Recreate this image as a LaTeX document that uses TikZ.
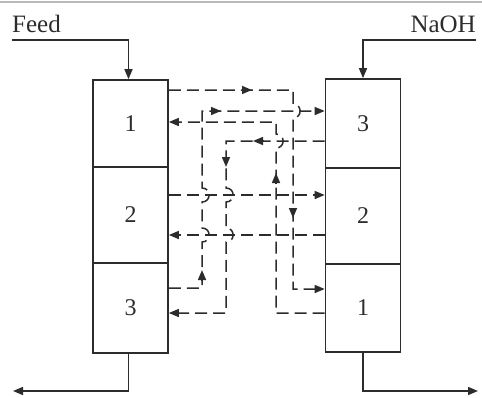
\documentclass[tikz,border=0pt]{standalone}
\usepackage{fontspec}
\setmainfont{Liberation Serif}
\usetikzlibrary{arrows.meta}
\definecolor{ink}{HTML}{2c2c2c}
\begin{document}
\begin{tikzpicture}[x=1pt,y=-1pt,
  stage/.style={draw=ink, line width=1.7pt, minimum width=75pt, inner sep=0pt,
    font=\fontsize{24}{24}\selectfont, text=ink},
  lbl/.style={inner sep=0pt, font=\fontsize{25}{25}\selectfont, text=ink},
  tipshape/.tip={Triangle[length=10pt,width=8pt]},
  flow/.style={draw=ink, line width=1.5pt, dash pattern=on 12pt off 6pt, -{tipshape}},
  feedline/.style={draw=ink, line width=1.5pt, -{tipshape}},
  tipmark/.style={draw=ink, fill=ink, line width=1.5pt, -{tipshape}}]
\useasboundingbox (0,0) rectangle (482,397);
\draw[gray!55, line width=2pt] (0,2) -- (482,2);
% stages
\node[stage, minimum height=87pt] (L1) at (130.5,123.5) {1};
\node[stage, minimum height=96pt] (L2) at (130.5,215) {2};
\node[stage, minimum height=90pt] (L3) at (130.5,308) {3};
\node[stage, minimum height=89pt] (R3) at (363,123.5) {3};
\node[stage, minimum height=96pt] (R2) at (363,216) {2};
\node[stage, minimum height=88pt] (R1) at (363,308) {1};
% labels
\node[lbl, anchor=base west] (feed) at (12,32) {Feed};
\node[lbl, anchor=base east] (naoh) at (476,32) {NaOH};
% feeds and outlets
\coordinate (outL) at (13,391);
\coordinate (outR) at (478,391);
\draw[feedline] (feed.south west |- 0,40) -| ([xshift=-2pt]L1.north);
\draw[feedline] (naoh.south east |- 0,40) -| (R3.north);
\draw[feedline] ([xshift=-2pt]L3.south) |- (outL);
\draw[feedline] (R1.south) |- (outR);
% A: L1 -> R1
\draw[flow] (L1.east |- 0,90) -- (293,90) -- (293,104)
  .. controls (302.5,104) and (302.5,118) .. (293,118) -- (293,289) -- (R1.west |- 0,289);
% B: R3 -> L3
\draw[flow] (R3.west |- 0,141) -- (226,141) -- (226,188)
  .. controls (235.5,188) and (235.5,202) .. (226,202) -- (226,228)
  .. controls (235.5,228) and (235.5,242) .. (226,242) -- (226,313) -- (L3.east |- 0,313);
% C: R1 -> L1
\draw[flow] (R1.west |- 0,313) -- (276,313) -- (276,148)
  .. controls (285.5,148) and (285.5,134) .. (276,134) -- (276,122) -- (L1.east |- 0,122);
% D: L3 -> R3
\draw[flow] (L3.east |- 0,288) -- (202,288) -- (202,242)
  .. controls (211.5,242) and (211.5,228) .. (202,228) -- (202,202)
  .. controls (211.5,202) and (211.5,188) .. (202,188) -- (202,111) -- (R3.west |- 0,111);
% E: L2 -> R2, F: R2 -> L2
\draw[flow] (L2.east |- 0,195) -- (R2.west |- 0,195);
\draw[flow] (R2.west |- 0,235) -- (L2.east |- 0,235);
% mid-line arrow heads
\draw[tipmark] (242,90) -- (252,90);
\draw[tipmark] (293,208) -- (293,218);
\draw[tipmark] (263,141) -- (253,141);
\draw[tipmark] (226,157) -- (226,167);
\draw[tipmark] (276,183) -- (276,173);
\draw[tipmark] (202,280) -- (202,270);
\draw[tipmark] (211,111) -- (221,111);
\end{tikzpicture}
\end{document}
